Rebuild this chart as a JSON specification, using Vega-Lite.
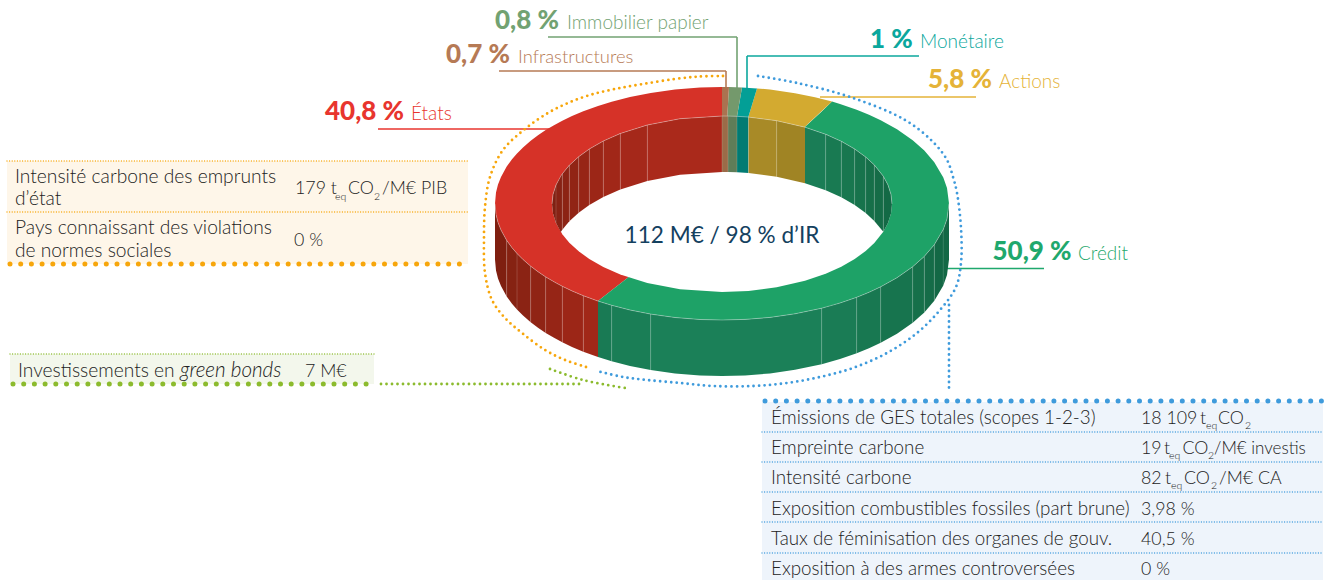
{"$schema":"https://vega.github.io/schema/vega-lite/v6.json","width":1331,"height":580,"padding":0,"autosize":{"type":"none"},"background":"#ffffff","config":{"view":{"stroke":null},"text":{"font":"Lato"}},
"datasets":{
"bg":[{"part":"bgL","x":7,"x2":468,"y":161,"y2":264},{"part":"bgR","x":762,"x2":1323,"y":402,"y2":580},{"part":"bgG","x":10,"x2":374,"y":354,"y2":384}],
"callH":[{"part":"etats","x":378,"x2":560,"y":129},{"part":"infra","x":499,"x2":726,"y":71},{"part":"immo","x":548,"x2":737,"y":37},{"part":"mone","x":747,"x2":919,"y":56},{"part":"acti","x":820,"x2":976,"y":97},{"part":"cred","x":945,"x2":1044,"y":268.5}],
"callV":[{"part":"infra","x":726,"y":71,"y2":88},{"part":"immo","x":737,"y":37,"y2":88},{"part":"mone","x":747,"y":56,"y2":89}],
"top":[
{"part":"fEtats","x":495,"y":203.5,"y2":203.5},{"part":"fEtats","x":496,"y":192.6,"y2":214.4},{"part":"fEtats","x":498,"y":184.6,"y2":222.4},{"part":"fEtats","x":501,"y":176.9,"y2":230.1},{"part":"fEtats","x":506.7,"y":166.6,"y2":240.4},{"part":"fEtats","x":512,"y":159.3,"y2":247.7},{"part":"fEtats","x":517,"y":153.5,"y2":253.5},{"part":"fEtats","x":523,"y":147.5,"y2":259.5},{"part":"fEtats","x":530.7,"y":140.8,"y2":266.2},{"part":"fEtats","x":538,"y":135.3,"y2":271.7},{"part":"fEtats","x":545.7,"y":130.1,"y2":276.9},{"part":"fEtats","x":554,"y":125.2,"y2":281.8},{"part":"fEtats","x":562.3,"y":120.7,"y2":286.3},{"part":"fEtats","x":572,"y":116.1,"y2":290.9},{"part":"fEtats","x":583.3,"y":111.3,"y2":295.7},{"part":"fEtats","x":598,"y":105.9,"y2":301.1},{"part":"fEtats","x":611.7,"y":101.7,"y2":290.3},{"part":"fEtats","x":630,"y":97,"y2":275.9},{"part":"fEtats","x":650.7,"y":92.9,"y2":259.6},{"part":"fEtats","x":675,"y":89.5,"y2":240.5},{"part":"fEtats","x":700,"y":87.5,"y2":220.8},{"part":"fEtats","x":722,"y":87,"y2":203.5},
{"part":"fCred","x":598,"y":301.1,"y2":301.1},{"part":"fCred","x":611.7,"y":290.3,"y2":305.3},{"part":"fCred","x":630,"y":275.9,"y2":310},{"part":"fCred","x":650.7,"y":259.6,"y2":314.1},{"part":"fCred","x":675,"y":240.5,"y2":317.5},{"part":"fCred","x":700,"y":220.8,"y2":319.5},{"part":"fCred","x":722,"y":203.5,"y2":320},{"part":"fCred","x":745,"y":182.3,"y2":319.4},{"part":"fCred","x":770,"y":159.2,"y2":317.4},{"part":"fCred","x":795,"y":136.1,"y2":313.8},{"part":"fCred","x":821.7,"y":111.5,"y2":308.2},{"part":"fCred","x":832,"y":101.6,"y2":305.4},{"part":"fCred","x":840,"y":104,"y2":303},{"part":"fCred","x":856.7,"y":109.7,"y2":297.3},{"part":"fCred","x":869,"y":114.7,"y2":292.3},{"part":"fCred","x":880.7,"y":120.2,"y2":286.8},{"part":"fCred","x":897,"y":129.3,"y2":277.7},{"part":"fCred","x":912.7,"y":140.3,"y2":266.7},{"part":"fCred","x":924.3,"y":150.6,"y2":256.4},{"part":"fCred","x":934.3,"y":162.3,"y2":244.7},{"part":"fCred","x":943.3,"y":177.6,"y2":229.4},{"part":"fCred","x":947,"y":188,"y2":219},{"part":"fCred","x":949,"y":203.5,"y2":203.5},
{"part":"fActi","x":722,"y":203.5,"y2":203.5},{"part":"fActi","x":757,"y":88.4,"y2":171.1},{"part":"fActi","x":770,"y":89.6,"y2":159},{"part":"fActi","x":795,"y":93.2,"y2":135.9},{"part":"fActi","x":815,"y":97.2,"y2":117.3},{"part":"fActi","x":832,"y":101.6,"y2":101.6},
{"part":"fMone","x":722,"y":203.5,"y2":203.5},{"part":"fMone","x":742,"y":87.45,"y2":137.7},{"part":"fMone","x":757,"y":88.4,"y2":88.4},
{"part":"fImmo","x":722,"y":203.5,"y2":203.5},{"part":"fImmo","x":729,"y":87.1,"y2":162.9},{"part":"fImmo","x":742,"y":87.45,"y2":87.45},
{"part":"fInfra","x":722,"y":87,"y2":203.5},{"part":"fInfra","x":729,"y":87.1,"y2":87.1}],
"hole":[{"x":552,"y":204,"y2":204},{"x":553,"y":194.4,"y2":213.6},{"x":556,"y":185,"y2":223},{"x":562.3,"y":173.8,"y2":234.2},{"x":569.3,"y":165.3,"y2":242.7},{"x":578.7,"y":156.7,"y2":251.3},{"x":589.3,"y":149,"y2":259},{"x":603.3,"y":141,"y2":267},{"x":620.3,"y":133.5,"y2":274.5},{"x":647.3,"y":125,"y2":283},{"x":680,"y":118.7,"y2":289.3},{"x":722,"y":116,"y2":292},{"x":748.5,"y":117.1,"y2":290.9},{"x":776.7,"y":120.7,"y2":287.3},{"x":805,"y":127.2,"y2":280.8},{"x":825.7,"y":134.3,"y2":273.7},{"x":841.3,"y":141.3,"y2":266.7},{"x":854.7,"y":149,"y2":259},{"x":865.7,"y":157,"y2":251},{"x":874.3,"y":164.9,"y2":243.1},{"x":883.3,"y":176.2,"y2":231.8},{"x":888,"y":185,"y2":223},{"x":891,"y":194.4,"y2":213.6},{"x":892,"y":204,"y2":204}],
"inner":[
{"part":"i1","x":552,"y":204,"y2":204},{"part":"i1","x":553,"y":194.4,"y2":213.6},{"part":"i1","x":556,"y":185,"y2":223},
{"part":"i2","x":556,"y":185,"y2":223},{"part":"i2","x":560.8,"y":176,"y2":232},{"part":"i2","x":562.3,"y":173.8,"y2":229.8},
{"part":"i3","x":562.3,"y":173.8,"y2":229.8},{"part":"i3","x":569.3,"y":165.3,"y2":221.3},
{"part":"i4","x":569.3,"y":165.3,"y2":221.3},{"part":"i4","x":578.7,"y":156.7,"y2":212.7},
{"part":"i5","x":578.7,"y":156.7,"y2":212.7},{"part":"i5","x":589.3,"y":149,"y2":205},
{"part":"i6","x":589.3,"y":149,"y2":205},{"part":"i6","x":603.3,"y":141,"y2":197},
{"part":"i7","x":603.3,"y":141,"y2":197},{"part":"i7","x":620.3,"y":133.5,"y2":189.5},
{"part":"i8","x":620.3,"y":133.5,"y2":189.5},{"part":"i8","x":647.3,"y":125,"y2":181},
{"part":"i9","x":647.3,"y":125,"y2":181},{"part":"i9","x":680,"y":118.7,"y2":174.7},{"part":"i9","x":722,"y":116,"y2":172},
{"part":"iInfra","x":722,"y":116,"y2":172},{"part":"iInfra","x":728,"y":116.1,"y2":172.1},
{"part":"iImmo","x":728,"y":116.1,"y2":172.1},{"part":"iImmo","x":737,"y":116.3,"y2":172.3},
{"part":"iMone","x":737,"y":116.3,"y2":172.3},{"part":"iMone","x":748.5,"y":117.1,"y2":173.1},
{"part":"iA1","x":748.5,"y":117.1,"y2":173.1},{"part":"iA1","x":776.7,"y":120.7,"y2":176.7},
{"part":"iA2","x":776.7,"y":120.7,"y2":176.7},{"part":"iA2","x":805,"y":127.2,"y2":183.2},
{"part":"j1","x":805,"y":127.2,"y2":183.2},{"part":"j1","x":825.7,"y":134.3,"y2":190.3},
{"part":"j2","x":825.7,"y":134.3,"y2":190.3},{"part":"j2","x":841.3,"y":141.3,"y2":197.3},
{"part":"j3","x":841.3,"y":141.3,"y2":197.3},{"part":"j3","x":854.7,"y":149,"y2":205},
{"part":"j4","x":854.7,"y":149,"y2":205},{"part":"j4","x":865.7,"y":157,"y2":213},
{"part":"j5","x":865.7,"y":157,"y2":213},{"part":"j5","x":874.3,"y":164.9,"y2":220.9},
{"part":"j6","x":874.3,"y":164.9,"y2":220.9},{"part":"j6","x":883.3,"y":176.2,"y2":231.8},
{"part":"j7","x":883.3,"y":176.2,"y2":231.8},{"part":"j7","x":888,"y":185,"y2":223},{"part":"j7","x":891,"y":194.4,"y2":213.6},{"part":"j7","x":892,"y":204,"y2":204}],
"outer":[
{"part":"o1","x":495,"y":203.5,"y2":259.5},{"part":"o1","x":496,"y":214.4,"y2":270.4},{"part":"o1","x":498,"y":222.4,"y2":278.4},{"part":"o1","x":501,"y":230.1,"y2":286.1},{"part":"o1","x":506.7,"y":240.4,"y2":296.4},
{"part":"o2","x":506.7,"y":240.4,"y2":296.4},{"part":"o2","x":512,"y":247.7,"y2":303.7},{"part":"o2","x":517,"y":253.5,"y2":309.5},
{"part":"o3","x":517,"y":253.5,"y2":309.5},{"part":"o3","x":523,"y":259.5,"y2":315.5},{"part":"o3","x":530.7,"y":266.2,"y2":322.2},
{"part":"o4","x":530.7,"y":266.2,"y2":322.2},{"part":"o4","x":538,"y":271.7,"y2":327.7},{"part":"o4","x":545.7,"y":276.9,"y2":332.9},
{"part":"o5","x":545.7,"y":276.9,"y2":332.9},{"part":"o5","x":554,"y":281.8,"y2":337.8},{"part":"o5","x":562.3,"y":286.3,"y2":342.3},
{"part":"o6","x":562.3,"y":286.3,"y2":342.3},{"part":"o6","x":572,"y":290.9,"y2":346.9},{"part":"o6","x":583.3,"y":295.7,"y2":351.7},
{"part":"o7","x":583.3,"y":295.7,"y2":351.7},{"part":"o7","x":598,"y":301.1,"y2":357.1},
{"part":"g1","x":598,"y":301.1,"y2":357.1},{"part":"g1","x":611.7,"y":305.3,"y2":361.3},
{"part":"g2","x":611.7,"y":305.3,"y2":361.3},{"part":"g2","x":630,"y":310,"y2":366},{"part":"g2","x":650.7,"y":314.1,"y2":370.1},
{"part":"g3","x":650.7,"y":314.1,"y2":370.1},{"part":"g3","x":675,"y":317.5,"y2":373.5},{"part":"g3","x":700,"y":319.5,"y2":375.5},{"part":"g3","x":722,"y":320,"y2":376},{"part":"g3","x":745,"y":319.4,"y2":375.4},{"part":"g3","x":770,"y":317.4,"y2":373.4},{"part":"g3","x":795,"y":313.8,"y2":369.8},{"part":"g3","x":821.7,"y":308.2,"y2":364.2},
{"part":"g4","x":821.7,"y":308.2,"y2":364.2},{"part":"g4","x":840,"y":303,"y2":359},{"part":"g4","x":856.7,"y":297.3,"y2":353.3},
{"part":"g5","x":856.7,"y":297.3,"y2":353.3},{"part":"g5","x":869,"y":292.3,"y2":348.3},{"part":"g5","x":880.7,"y":286.8,"y2":342.8},
{"part":"g6","x":880.7,"y":286.8,"y2":342.8},{"part":"g6","x":897,"y":277.7,"y2":333.7},{"part":"g6","x":912.7,"y":266.7,"y2":322.7},
{"part":"g7","x":912.7,"y":266.7,"y2":322.7},{"part":"g7","x":924.3,"y":256.4,"y2":312.4},
{"part":"g8","x":924.3,"y":256.4,"y2":312.4},{"part":"g8","x":934.3,"y":244.7,"y2":300.7},
{"part":"g9","x":934.3,"y":244.7,"y2":300.7},{"part":"g9","x":943.3,"y":229.4,"y2":285.4},{"part":"g9","x":947,"y":219,"y2":275},{"part":"g9","x":949,"y":203.5,"y2":259.5}],
"strips":[{"x":506.7,"y":240.4,"y2":296.4},{"x":517,"y":253.5,"y2":309.5},{"x":530.7,"y":266.2,"y2":322.2},{"x":545.7,"y":276.9,"y2":332.9},{"x":562.3,"y":286.3,"y2":342.3},{"x":583.3,"y":295.7,"y2":351.7},{"x":611.7,"y":305.3,"y2":361.3},{"x":650.7,"y":314.1,"y2":370.1},{"x":821.7,"y":308.2,"y2":364.2},{"x":856.7,"y":297.3,"y2":353.3},{"x":880.7,"y":286.8,"y2":342.8},{"x":912.7,"y":266.7,"y2":322.7},{"x":924.3,"y":256.4,"y2":312.4},{"x":934.3,"y":244.7,"y2":300.7},{"x":943.3,"y":229.4,"y2":285.4},
{"x":556,"y":185,"y2":223},{"x":562.3,"y":173.8,"y2":229.8},{"x":569.3,"y":165.3,"y2":221.3},{"x":578.7,"y":156.7,"y2":212.7},{"x":589.3,"y":149,"y2":205},{"x":603.3,"y":141,"y2":197},{"x":620.3,"y":133.5,"y2":189.5},{"x":647.3,"y":125,"y2":181},{"x":722,"y":116,"y2":172},{"x":728,"y":116.1,"y2":172.1},{"x":737,"y":116.3,"y2":172.3},{"x":748.5,"y":117.1,"y2":173.1},{"x":776.7,"y":120.7,"y2":176.7},{"x":825.7,"y":134.3,"y2":190.3},{"x":841.3,"y":141.3,"y2":197.3},{"x":854.7,"y":149,"y2":205},{"x":865.7,"y":157,"y2":213},{"x":874.3,"y":164.9,"y2":220.9},{"x":883.3,"y":176.2,"y2":231.8}],
"arcs":[
{"part":"dotO","i":1,"x":723,"y":76},{"part":"dotO","i":2,"x":700,"y":76.5},{"part":"dotO","i":3,"x":675,"y":79},{"part":"dotO","i":4,"x":643,"y":84},{"part":"dotO","i":5,"x":615,"y":89},{"part":"dotO","i":6,"x":590,"y":95},{"part":"dotO","i":7,"x":568,"y":103},{"part":"dotO","i":8,"x":548,"y":113},{"part":"dotO","i":9,"x":525,"y":129},{"part":"dotO","i":10,"x":503,"y":150},{"part":"dotO","i":11,"x":490,"y":177},{"part":"dotO","i":12,"x":485,"y":207},{"part":"dotO","i":13,"x":484,"y":238},{"part":"dotO","i":14,"x":485,"y":273},{"part":"dotO","i":15,"x":492,"y":300},{"part":"dotO","i":16,"x":505,"y":318},{"part":"dotO","i":17,"x":522,"y":333},{"part":"dotO","i":18,"x":545,"y":350},{"part":"dotO","i":19,"x":565,"y":360},{"part":"dotO","i":20,"x":586,"y":367},
{"part":"dotB","i":1,"x":758,"y":76},{"part":"dotB","i":2,"x":797,"y":83},{"part":"dotB","i":3,"x":850,"y":97},{"part":"dotB","i":4,"x":905,"y":120},{"part":"dotB","i":5,"x":933,"y":142},{"part":"dotB","i":6,"x":947,"y":160},{"part":"dotB","i":7,"x":953,"y":177},{"part":"dotB","i":8,"x":957,"y":193},{"part":"dotB","i":9,"x":961,"y":228},{"part":"dotB","i":10,"x":961,"y":263},{"part":"dotB","i":11,"x":956,"y":287},{"part":"dotB","i":12,"x":940,"y":310},{"part":"dotB","i":13,"x":917,"y":333},{"part":"dotB","i":14,"x":887,"y":353},{"part":"dotB","i":15,"x":853,"y":368},{"part":"dotB","i":16,"x":820,"y":377},{"part":"dotB","i":17,"x":787,"y":383},{"part":"dotB","i":18,"x":753,"y":386},{"part":"dotB","i":19,"x":713,"y":386},{"part":"dotB","i":20,"x":680,"y":383},{"part":"dotB","i":21,"x":647,"y":380},{"part":"dotB","i":22,"x":623,"y":377},{"part":"dotB","i":23,"x":597,"y":371},
{"part":"dotB2","i":1,"x":949,"y":305},{"part":"dotB2","i":2,"x":949,"y":393},
{"part":"dotG","i":1,"x":550,"y":369},{"part":"dotG","i":2,"x":583,"y":380},{"part":"dotG","i":3,"x":625,"y":388},
{"part":"dotG2","i":1,"x":381,"y":384},{"part":"dotG2","i":2,"x":580,"y":384}],
"thinDots":[{"part":"dotO","x":7,"x2":468,"y":161},{"part":"dotO","x":7,"x2":468,"y":212},{"part":"dotG","x":10,"x2":374,"y":354},{"part":"dotB","x":762,"x2":1323,"y":432},{"part":"dotB","x":762,"x2":1323,"y":462},{"part":"dotB","x":762,"x2":1323,"y":492},{"part":"dotB","x":762,"x2":1323,"y":522},{"part":"dotB","x":762,"x2":1323,"y":553}],
"thickDots":[{"part":"dotO","x":10,"x2":468,"y":264},{"part":"dotG","x":13,"x2":374,"y":384},{"part":"dotB","x":765,"x2":1323,"y":401}],
"pct":[{"part":"etats","x":325,"y":120,"t":"40,8 %"},{"part":"infra","x":446,"y":63,"t":"0,7 %"},{"part":"immo","x":495,"y":29,"t":"0,8 %"},{"part":"mone","x":870,"y":48,"t":"1 %"},{"part":"acti","x":928,"y":88,"t":"5,8 %"},{"part":"cred","x":992.5,"y":260,"t":"50,9 %"}],
"lab":[{"part":"etats","x":411,"y":120,"t":"États"},{"part":"immo","x":567,"y":29,"t":"Immobilier papier"},{"part":"mone","x":920,"y":48,"t":"Monétaire"},{"part":"acti","x":999,"y":88,"t":"Actions"},{"part":"cred","x":1078,"y":260,"t":"Crédit"}],
"lab2":[{"part":"infra","x":518,"y":63,"t":"Infrastructures"}],
"tblL":[{"x":15,"y":183,"t":"Intensité carbone des emprunts"},{"x":15,"y":205,"t":"d’état"},{"x":15,"y":234,"t":"Pays connaissant des violations"},{"x":15,"y":257,"t":"de normes sociales"},{"x":18,"y":377,"t":"Investissements en"}],
"tblR":[{"x":771,"y":424,"t":"Émissions de GES totales (scopes 1-2-3)"},{"x":771,"y":454,"t":"Empreinte carbone"},{"x":771,"y":484,"t":"Intensité carbone"},{"x":771,"y":515,"t":"Exposition combustibles fossiles (part brune)"},{"x":771,"y":545,"t":"Taux de féminisation des organes de gouv."},{"x":771,"y":575,"t":"Exposition à des armes controversées"}],
"val":[{"x":295,"y":194,"t":"179 t"},{"x":348,"y":194,"t":"CO"},{"x":382,"y":194,"t":"/M€ PIB"},{"x":294,"y":246,"t":"0 %"},{"x":305,"y":377,"t":"7 M€"},{"x":1141,"y":424,"t":"18 109"},{"x":1200,"y":424,"t":"t"},{"x":1218,"y":424,"t":"CO"},{"x":1141,"y":454,"t":"19"},{"x":1164,"y":454,"t":"t"},{"x":1182.5,"y":454,"t":"CO"},{"x":1141,"y":484,"t":"82"},{"x":1165,"y":484,"t":"t"},{"x":1184,"y":484,"t":"CO"},{"x":1219,"y":484,"t":"/M€ CA"},{"x":1141,"y":515,"t":"3,98 %"},{"x":1141,"y":545,"t":"40,5 %"},{"x":1141,"y":575,"t":"0 %"}],
"val2":[{"x":1214,"y":454,"t":"/M€ investis"}],
"sub":[{"x":335,"y":200,"t":"eq"},{"x":374,"y":200,"t":"2"},{"x":1206,"y":429,"t":"eq"},{"x":1245,"y":429,"t":"2"},{"x":1169,"y":459,"t":"eq"},{"x":1208,"y":459,"t":"2"},{"x":1171,"y":489,"t":"eq"},{"x":1211,"y":489,"t":"2"}],
"ital":[{"x":180,"y":377,"t":"green bonds"}],
"center":[{"x":722,"y":243,"t":"112 M€ / 98 % d’IR"}]
},
"encoding":{
"x":{"field":"x","type":"quantitative","scale":{"domain":[0,1331],"range":[0,1331]},"axis":null},
"y":{"field":"y","type":"quantitative","stack":null,"scale":{"domain":[0,580],"range":[0,580]},"axis":null},
"color":{"field":"part","type":"nominal","legend":null,"scale":{
"domain":["bgL","bgR","bgG","etats","infra","immo","mone","acti","cred","fEtats","fCred","fActi","fMone","fImmo","fInfra","i1","i2","i3","i4","i5","i6","i7","i8","i9","iInfra","iImmo","iMone","iA1","iA2","j1","j2","j3","j4","j5","j6","j7","o1","o2","o3","o4","o5","o6","o7","g1","g2","g3","g4","g5","g6","g7","g8","g9","dotO","dotB","dotB2","dotG","dotG2"],
"range":["#fef6e9","#eef4fb","#f3f7ec","#e8352e","#b67a55","#72a272","#0ba79d","#e5b338","#1fa86d","#d63228","#1ea267","#d3aa30","#039f96","#74996c","#ab7250","#7f2012","#872214","#8c2314","#912415","#972516","#9c2617","#a12718","#a5281a","#aa291b","#9b6b48","#5f7d58","#017b73","#a88a27","#a08424","#1a7d56","#197a52","#18774f","#17734c","#166f49","#156c47","#136945","#7f1f10","#862212","#8b2314","#902415","#962516","#9c2617","#a12818","#197a54","#1a7e56","#1b8058","#1a7c55","#187851","#17744e","#16704a","#156c48","#136845","#f7a60b","#3f9bdc","#3f9bdc","#8cbb2e","#8cbb2e"]}}
},
"layer":[
{"data":{"name":"bg"},"mark":{"type":"rect"},"encoding":{"x2":{"field":"x2"},"y2":{"field":"y2"}}},
{"data":{"name":"callH"},"mark":{"type":"rule","strokeWidth":1.6},"encoding":{"x2":{"field":"x2"}}},
{"data":{"name":"callV"},"mark":{"type":"rule","strokeWidth":1.6},"encoding":{"y2":{"field":"y2"}}},
{"data":{"name":"top"},"mark":{"type":"area"},"encoding":{"y2":{"field":"y2"}}},
{"data":{"name":"hole"},"mark":{"type":"area"},"encoding":{"y2":{"field":"y2"},"color":{"value":"#ffffff"}}},
{"data":{"name":"inner"},"mark":{"type":"area"},"encoding":{"y2":{"field":"y2"}}},
{"data":{"name":"outer"},"mark":{"type":"area"},"encoding":{"y2":{"field":"y2"}}},
{"data":{"name":"strips"},"mark":{"type":"rule","strokeWidth":0.8,"opacity":0.2},"encoding":{"y2":{"field":"y2"},"color":{"value":"#ffffff"}}},
{"data":{"name":"inner"},"mark":{"type":"line","strokeWidth":0.8,"opacity":0.4},"encoding":{"detail":{"field":"part"},"color":{"value":"#ffffff"}}},
{"data":{"name":"outer"},"mark":{"type":"line","strokeWidth":0.8,"opacity":0.4},"encoding":{"detail":{"field":"part"},"color":{"value":"#ffffff"}}},
{"data":{"name":"arcs"},"mark":{"type":"line","strokeWidth":2.8,"strokeCap":"round","strokeDash":[0,5.5],"interpolate":"catmull-rom"},"encoding":{"order":{"field":"i"}}},
{"data":{"name":"thinDots"},"mark":{"type":"rule","strokeWidth":1.3,"strokeCap":"round","strokeDash":[0,2.6]},"encoding":{"x2":{"field":"x2"}}},
{"data":{"name":"thickDots"},"mark":{"type":"rule","strokeWidth":5,"strokeCap":"round","strokeDash":[0,10.7]},"encoding":{"x2":{"field":"x2"}}},
{"data":{"name":"pct"},"mark":{"type":"text","font":"Lato","fontWeight":900,"fontSize":26,"align":"left","baseline":"alphabetic"},"encoding":{"text":{"field":"t"}}},
{"data":{"name":"lab"},"mark":{"type":"text","font":"Lato","fontWeight":300,"fontSize":19,"align":"left","baseline":"alphabetic"},"encoding":{"text":{"field":"t"}}},
{"data":{"name":"lab2"},"mark":{"type":"text","font":"Lato","fontWeight":300,"fontSize":18.4,"align":"left","baseline":"alphabetic"},"encoding":{"text":{"field":"t"}}},
{"data":{"name":"tblL"},"mark":{"type":"text","font":"Lato","fontWeight":300,"fontSize":19.2,"align":"left","baseline":"alphabetic"},"encoding":{"text":{"field":"t"},"color":{"value":"#222222"}}},
{"data":{"name":"tblR"},"mark":{"type":"text","font":"Lato","fontWeight":300,"fontSize":18.8,"align":"left","baseline":"alphabetic"},"encoding":{"text":{"field":"t"},"color":{"value":"#222222"}}},
{"data":{"name":"val"},"mark":{"type":"text","font":"Lato","fontWeight":300,"fontSize":17.8,"align":"left","baseline":"alphabetic"},"encoding":{"text":{"field":"t"},"color":{"value":"#222222"}}},
{"data":{"name":"val2"},"mark":{"type":"text","font":"Lato","fontWeight":300,"fontSize":17,"align":"left","baseline":"alphabetic"},"encoding":{"text":{"field":"t"},"color":{"value":"#222222"}}},
{"data":{"name":"sub"},"mark":{"type":"text","font":"Lato","fontWeight":300,"fontSize":10.5,"align":"left","baseline":"alphabetic"},"encoding":{"text":{"field":"t"},"color":{"value":"#222222"}}},
{"data":{"name":"ital"},"mark":{"type":"text","font":"Lato","fontWeight":300,"fontStyle":"italic","fontSize":20.6,"align":"left","baseline":"alphabetic"},"encoding":{"text":{"field":"t"},"color":{"value":"#222222"}}},
{"data":{"name":"center"},"mark":{"type":"text","font":"Lato","fontWeight":400,"fontSize":22.6,"align":"center","baseline":"alphabetic"},"encoding":{"text":{"field":"t"},"color":{"value":"#14415f"}}}
]}
